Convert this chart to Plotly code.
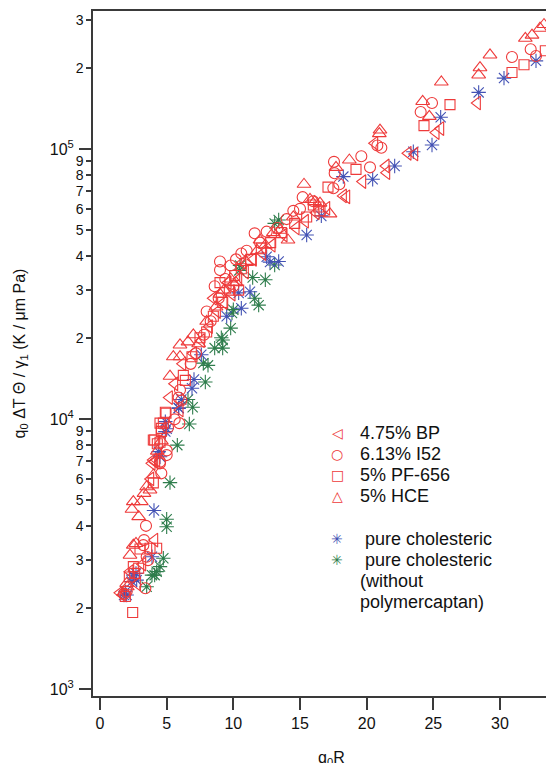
import plotly.graph_objects as go

# ---- data: q0R versus q0*dT*Theta/gamma1 (K / um Pa) ----
bp_x = [1.5, 1.7, 2.25, 2.8, 3.2, 4.1, 3.9, 4.0, 4.1, 4.25, 3.8, 6.0, 5.2, 5.6, 6.2, 7.0, 7.6, 8.2,
        8.8, 9.3, 9.9, 10.4, 10.9, 11.5, 12.2, 12.9, 13.8, 14.7, 15.4, 16.2, 17.0, 18.25, 18.5,
        19.7, 21.45, 21.5, 20.6, 23.1, 23.6, 25.2, 25.55, 28.3, 8.5, 9.6, 10.7]
bp_y = [2270, 2230, 2720, 2450, 2900, 3560, 6850, 7050, 6950, 7050, 6000, 10800, 12000, 13500,
        16000, 17500, 19500, 22000, 25000, 27000, 29000, 33000, 35000, 39000, 41000, 44000, 48000,
        51000, 54000, 58000, 60300, 67000, 66500, 75700, 86500, 81700, 105000, 96400, 95800,
        115000, 119000, 148000, 28000, 32000, 38000]

i52_x = [1.8, 2.0, 3.4, 3.3, 3.25, 3.5, 3.6, 3.45, 4.5, 4.6, 4.5, 5.0, 5.0, 5.1, 5.6, 5.95, 6.0,
         5.9, 6.1, 6.8, 7.2, 7.8, 8.3, 8.6, 9.0, 9.0, 9.4, 9.8, 10.2, 10.6, 11.0, 11.6, 12.0, 12.5,
         13.3, 14.0, 14.5, 15.0, 15.2, 16.0, 17.5, 17.55, 17.6, 17.95, 19.6, 20.25, 20.8, 21.1,
         24.05, 24.9, 30.9, 32.3, 32.7, 8.0, 8.9, 10.0]
i52_y = [2250, 2300, 2360, 3560, 3410, 3090, 3000, 4020, 6850, 6290, 6950, 7350, 7650, 9300, 9970,
         9650, 12800, 12000, 11700, 16000, 17500, 20500, 23000, 31000, 38300, 35600, 33000, 37000,
         39000, 41000, 42000, 48700, 45000, 49400, 51000, 55000, 59000, 60000, 66300, 64000,
         71500, 89600, 81300, 74000, 94000, 85500, 103000, 101000, 137000, 148000, 219000,
         234000, 221000, 25000, 28000, 31000]

pf_x = [1.9, 2.2, 2.45, 2.5, 2.6, 2.9, 3.0, 3.75, 4.25, 4.0, 4.0, 4.1, 4.3, 4.5, 4.5, 4.6, 4.75,
        4.6, 4.9, 4.95, 6.25, 6.4, 6.9, 7.5, 8.0, 8.5, 9.2, 9.7, 10.1, 10.6, 11.3, 12.1, 12.8,
        13.6, 14.6, 15.5, 16.0, 16.4, 16.5, 17.1, 19.2, 24.3, 26.25, 30.9, 31.8, 33.4, 9.0, 10.4]
pf_y = [2200, 2600, 1920, 2840, 2680, 2800, 3300, 3320, 3320, 5800, 8360, 8360, 8100, 8200, 9650,
        9000, 9650, 9230, 10590, 10500, 14500, 13900, 17000, 20000, 21000, 24000, 27000, 30000,
        34000, 36000, 39000, 43000, 45000, 49000, 53000, 56000, 62000, 61000, 59000, 72200,
        84000, 122000, 146000, 192000, 205000, 231000, 32000, 30000]

hce_x = [2.0, 2.05, 2.25, 2.5, 2.7, 2.4, 2.5, 2.9, 3.1, 3.3, 3.5, 3.75, 4.0, 4.3, 4.6, 5.25, 5.5,
         6.0, 6.0, 6.6, 7.0, 7.4, 8.0, 8.7, 9.0, 9.3, 9.8, 10.2, 11.0, 11.8, 12.0, 12.4, 13.0,
         13.5, 14.1, 14.5, 15.3, 15.75, 16.1, 16.5, 17.25, 17.7, 18.7, 20.95, 21.0, 24.2, 24.7,
         25.6, 28.4, 28.5, 29.25, 31.9, 32.4, 33.0, 33.3]
hce_y = [2460, 2390, 3130, 3410, 3460, 4630, 4940, 4350, 4940, 5300, 5610, 5460, 6200, 7600, 8300,
         14400, 17000, 17000, 18800, 19300, 20500, 19000, 23000, 26000, 29000, 30000, 33000,
         32000, 38000, 42000, 46000, 44000, 49000, 50000, 46000, 56000, 74000, 65000, 63800,
         63000, 57500, 85500, 91000, 114000, 117500, 150000, 132000, 177000, 188000, 200000,
         223000, 257000, 264000, 280000, 289000]

pure_x = [1.8, 1.9, 2.0, 2.4, 2.5, 2.7, 2.75, 3.9, 4.05, 4.4, 4.5, 4.9, 5.0, 4.9, 5.9, 6.1, 5.9,
          6.9, 7.05, 7.6, 9.5, 10.4, 10.6, 11.25, 12.5, 12.75, 13.4, 15.5, 16.6, 18.25, 20.45,
          22.1, 23.5, 24.9, 25.55, 28.4, 30.3, 32.7]
pure_y = [2230, 2290, 2230, 2500, 2640, 2680, 2530, 3090, 4580, 7570, 7250, 9780, 9200, 8980,
          10950, 11800, 11000, 13000, 14000, 17300, 24000, 29300, 25700, 29600, 39900, 38100,
          38300, 48000, 56500, 79000, 77200, 86500, 97700, 103500, 131000, 162000, 183000, 212000]

nopm_x = [3.5, 3.9, 4.1, 4.25, 4.5, 4.75, 5.0, 5.0, 5.25, 5.8, 6.6, 6.95, 6.7, 7.9, 7.75, 8.1,
          8.6, 9.2, 9.2, 9.1, 9.8, 9.9, 10.0, 10.45, 10.5, 11.45, 11.6, 11.9, 12.4, 13.1, 13.1,
          13.4]
nopm_y = [2390, 2640, 2640, 2720, 2840, 3050, 3990, 4250, 5810, 8000, 11800, 11050, 9580, 13700,
          16100, 15800, 18300, 18300, 19600, 20000, 21700, 24700, 25400, 35500, 37000, 33400,
          28000, 26400, 32800, 37200, 53000, 54600]

legend_rows = ["4.75% BP", "6.13% I52", "5% PF-656", "5% HCE",
               "\u00a0pure cholesteric", "\u00a0pure cholesteric", "(without", "polymercaptan)"]
legend_glyphs = ["\u25c1", "\u25cb", "\u25a1", "\u25b3", "\u2733", "\u2733", "", ""]

x_ticks = [0, 5, 10, 15, 20, 25, 30]
minor_vals = [m * 10 ** e for e in (3, 4) for m in range(2, 10)] + [2e5, 3e5]
minor_text = [str(int(v / 10 ** len(str(int(v))[1:]))) for v in minor_vals]
decade_vals = [1e3, 1e4, 1e5]
decade_text = ["10<sup>3</sup>", "10<sup>4</sup>", "10<sup>5</sup>"]

RED = "#EE3A3A"
BLUE = "#4352B4"
GREEN = "#2E7D4C"
AX = "#3a3a3a"
FONT = "Liberation Sans, Arial, sans-serif"

fig = go.Figure()


def add_series(xs, ys, symbol, color, size):
    fig.add_trace(go.Scatter(
        x=xs, y=ys, mode="markers", showlegend=False,
        marker=dict(symbol=symbol, size=size, color=color,
                    line=dict(color=color, width=1.1)),
    ))


add_series(nopm_x, nopm_y, "asterisk-open", GREEN, 12)
add_series(pure_x, pure_y, "asterisk-open", BLUE, 12)
add_series(bp_x, bp_y, "triangle-left-open", RED, 12)
add_series(i52_x, i52_y, "circle-open", RED, 11)
add_series(pf_x, pf_y, "square-open", RED, 10)
add_series(hce_x, hce_y, "triangle-up-open", RED, 12)

# second y axis carries only the decade ticks (longer, with powers of ten)
fig.add_trace(go.Scatter(x=[None], y=[None], yaxis="y2", showlegend=False))

yrange = [2.974, 5.511]

fig.update_layout(
    width=546, height=763,
    margin=dict(l=93, r=0, t=11, b=67, autoexpand=False),
    paper_bgcolor="white", plot_bgcolor="white",
    font=dict(family=FONT, color="#111"),
    xaxis=dict(
        range=[-0.525, 33.45], tickvals=x_ticks, ticks="outside", ticklen=12, tickwidth=1.5,
        tickcolor=AX, showline=True, linecolor=AX, linewidth=1.5, mirror=True,
        showgrid=False, zeroline=False, tickfont=dict(size=16), automargin=False,
    ),
    yaxis=dict(
        type="log", range=yrange, tickmode="array", tickvals=minor_vals, ticktext=minor_text,
        ticks="outside", ticklen=5, tickwidth=1.5, tickcolor=AX, showline=True, linecolor=AX,
        linewidth=1.5, showgrid=False, zeroline=False, tickfont=dict(size=14), automargin=False,
        title=dict(text="q<sub>0</sub> \u0394T \u0398 / \u03b3<sub>1</sub> (K / \u03bcm Pa)",
                   font=dict(size=16), standoff=46),
    ),
    yaxis2=dict(
        type="log", range=yrange, overlaying="y", side="left", anchor="x",
        tickmode="array", tickvals=decade_vals, ticktext=decade_text, ticks="outside",
        ticklen=13, tickwidth=1.5, tickcolor=AX, showline=False, showgrid=False,
        zeroline=False, tickfont=dict(size=16), ticklabelstandoff=2, automargin=False,
    ),
)

# x axis title sits low, just under the tick labels
fig.add_annotation(x=(331 - 93) / 453, y=-51 / 685, xref="paper", yref="paper",
                   text="q<sub>0</sub>R", showarrow=False, xanchor="center", yanchor="top",
                   font=dict(family=FONT, size=16, color="#111"))

# legend drawn as stacked text rows
row_top = 0.3845
row_step = 21.2 / 685
for i, (txt, glyph) in enumerate(zip(legend_rows, legend_glyphs)):
    row = i + (1 if i >= 4 else 0)
    yy = row_top - row * row_step
    color = RED if i < 4 else (BLUE if i == 4 else GREEN)
    if glyph:
        fig.add_annotation(x=(337 - 93) / 453, y=yy, xref="paper", yref="paper", text=glyph,
                           showarrow=False, xanchor="center", yanchor="middle",
                           font=dict(family="DejaVu Sans", size=14, color=color))
    fig.add_annotation(x=(358 - 93) / 453, y=yy, xref="paper", yref="paper", text=txt,
                       showarrow=False, xanchor="left", yanchor="middle",
                       font=dict(family=FONT, size=18, color="#111"))

fig.write_html("out.html")
